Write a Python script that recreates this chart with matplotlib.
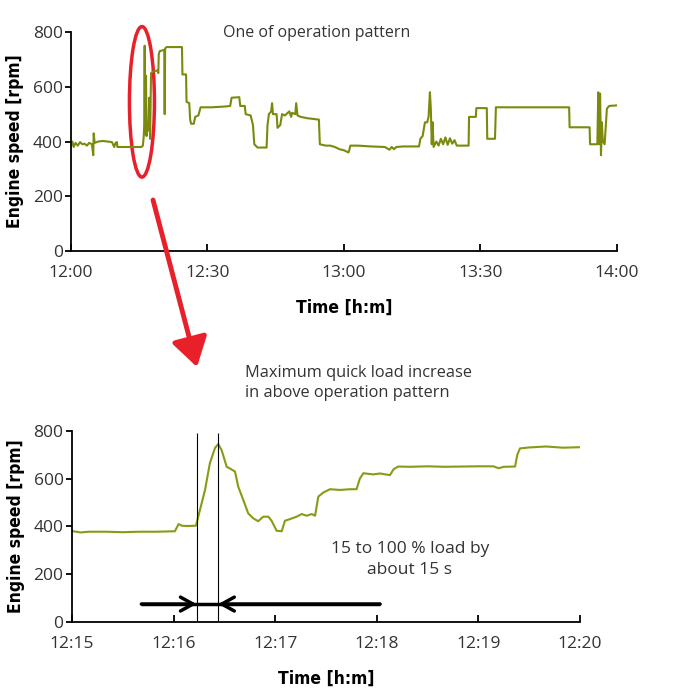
import matplotlib.pyplot as plt
from matplotlib.patches import Ellipse, FancyArrowPatch

# top panel: minutes after 12:00 vs engine speed [rpm]
top_min = [0, 0.3, 0.6, 1, 1.5, 2, 2.5, 3, 3.5, 4, 4.6, 4.9, 5.0, 5.2, 6, 7, 8, 9, 9.5, 9.8,
           10.1, 10.2, 10.3, 12, 15.5, 15.8, 16.0, 16.1, 16.2, 16.3, 16.5, 16.6, 16.8, 17.0,
           17.2, 17.4, 17.6, 18, 19.0, 19.2, 19.3, 19.5, 20.5, 20.6, 20.7, 21, 24.4, 24.5,
           25.3, 25.4, 26, 26.2, 26.4, 27, 27.3, 28, 28.5, 31, 34, 35, 35.3, 37, 37.2, 38.2,
           38.4, 39.5, 40, 40.3, 41, 43, 43.2, 43.5, 44, 44.2, 44.4, 45.2, 45.4, 46.0, 46.4,
           47, 48, 48.4, 48.6, 49.3, 49.5, 49.8, 50.5, 52, 54.5, 54.7, 56, 57, 58, 59, 60,
           61, 61.2, 61.4, 63, 66, 69, 70, 70.5, 71, 71.5, 73, 76.5, 76.8, 77.3, 77.8, 78.3,
           78.6, 78.9, 79.1, 79.3, 79.5, 79.7, 80.3, 80.8, 81.3, 81.8, 82.3, 82.8, 83.3, 83.8,
           84.3, 84.8, 87.4, 87.5, 89, 89.1, 91.4, 91.5, 93.2, 93.4, 109.5, 109.6, 114, 114.1,
           115.7, 115.9, 116.1, 116.3, 116.5, 116.7, 116.9, 117.3, 117.8, 118.3, 120]
top_rpm = [385, 400, 380, 395, 385, 398, 390, 392, 385, 395, 390, 350, 430, 395, 400, 402, 400,
           398, 380, 395, 398, 380, 380, 380, 380, 385, 420, 460, 750, 430, 640, 420, 470, 440,
           560, 410, 650, 655, 660, 650, 720, 730, 735, 500, 740, 745, 745, 645, 645, 545, 540,
           480, 465, 465, 490, 495, 525, 525, 528, 530, 560, 562, 530, 530, 500, 495, 460, 390,
           378, 378, 460, 500, 510, 540, 500, 500, 450, 460, 500, 495, 510, 490, 505, 500, 540,
           495, 490, 485, 480, 390, 385, 385, 380, 372, 368, 360, 370, 385, 385, 382, 380, 370,
           380, 372, 380, 382, 382, 410, 420, 470, 470, 490, 580, 520, 390, 470, 380, 400, 385,
           410, 390, 415, 388, 412, 392, 405, 385, 385, 490, 490, 522, 522, 410, 410, 525, 525,
           452, 452, 390, 390, 580, 390, 575, 350, 470, 400, 390, 520, 530, 532]

# bottom panel: seconds after 12:15 vs engine speed [rpm]
zoom_sec = [0, 5, 10, 20, 30, 40, 50, 60.8, 63, 65, 68, 73.2, 73.6, 75.6, 78.6, 81.5, 84.5,
            86.4, 88.4, 91.4, 93.3, 96.3, 98.2, 101.2, 104.1, 107.1, 110.0, 113.0, 116.0, 117.9,
            120.9, 123.9, 125.8, 128.8, 132.7, 135.7, 138.6, 141.6, 143.6, 145.5, 148.4, 152.4,
            158.3, 164.2, 168.1, 170, 172.1, 178, 182, 187.8, 190, 192.7, 200, 210, 220, 230,
            240, 248.9, 252, 255, 261.7, 263, 264.6, 270, 280, 290, 300]
zoom_rpm = [381, 375, 378, 378, 376, 378, 378, 380, 410, 403, 402, 403, 413, 469, 553, 666, 729,
            745, 720, 650, 643, 630, 567, 511, 455, 434, 422, 441, 441, 424, 382, 380, 424, 431,
            441, 452, 445, 452, 445, 525, 542, 556, 553, 556, 556, 600, 623, 618, 622, 615, 640,
            651, 650, 652, 650, 651, 652, 652, 644, 650, 651, 700, 727, 731, 735, 730, 732]

marks_sec = [73.6, 86.4]      # start / peak of quick load increase
arrow_span = [41, 182]
arrow_rpm = 75

xt_top = [0, 30, 60, 90, 120]
xt_top_lbl = ['12:00', '12:30', '13:00', '13:30', '14:00']
xt_zoom = [0, 60, 120, 180, 240, 300]
xt_zoom_lbl = ['12:15', '12:16', '12:17', '12:18', '12:19', '12:20']
yt = [0, 200, 400, 600, 800]

line_col = '#7b8a0c'
text_col = '#333333'

plt.rcParams['font.family'] = ['Open Sans', 'DejaVu Sans']

fig = plt.figure(figsize=(6.85, 6.9), dpi=100)
ax1 = fig.add_axes([0.1036, 0.6362, 0.797, 0.3174])
ax2 = fig.add_axes([0.105, 0.0986, 0.7416, 0.2768])


def style_axes(ax, xticks, xlabels, xmax):
    for s in ['top', 'right']:
        ax.spines[s].set_visible(False)
    for s in ['left', 'bottom']:
        ax.spines[s].set_linewidth(1.3)
    ax.set_xlim(0, xmax)
    ax.set_ylim(0, 800)
    ax.set_xticks(xticks)
    ax.set_xticklabels(xlabels)
    ax.set_yticks(yt)
    ax.tick_params(axis='x', direction='in', length=5, width=1.3, pad=10,
                   labelsize=12.5, labelcolor=text_col)
    ax.tick_params(axis='y', direction='out', length=4, width=1.3, pad=2,
                   labelsize=12.5, labelcolor=text_col)
    ax.set_ylabel('Engine speed [rpm]', fontsize=12.5, fontweight='bold',
                  family='DejaVu Sans', fontstretch='condensed', labelpad=6)
    ax.set_xlabel('Time [h:m]', fontsize=12.5, fontweight='bold',
                  family='DejaVu Sans', fontstretch='condensed', labelpad=13)


ax1.plot(top_min, top_rpm, color=line_col, lw=1.5)
style_axes(ax1, xt_top, xt_top_lbl, 120)
ax1.add_patch(Ellipse((15.6, 545), width=5.5, height=550, fill=False,
                      edgecolor='#e8202a', lw=2.5, clip_on=False))

ax2.plot(zoom_sec, zoom_rpm, color='#8a9a14', lw=1.5)
style_axes(ax2, xt_zoom, xt_zoom_lbl, 300)
ax2.vlines(marks_sec, 0, 793, colors='black', lw=0.8)
ax2.plot(arrow_span, [arrow_rpm, arrow_rpm], color='black', lw=2.5, solid_capstyle='butt')
head = '->,head_length=0.9,head_width=0.5'
ax2.annotate('', xy=(marks_sec[0], arrow_rpm), xytext=(arrow_span[0], arrow_rpm),
             arrowprops=dict(arrowstyle=head, lw=2.5, color='black', shrinkA=0, shrinkB=0))
ax2.annotate('', xy=(marks_sec[1], arrow_rpm), xytext=(arrow_span[1], arrow_rpm),
             arrowprops=dict(arrowstyle=head, lw=2.5, color='black', shrinkA=0, shrinkB=0))
ax2.text(199.6, 262, '15 to 100 % load by\nabout 15 s', ha='center', va='center',
         fontsize=12.5, color=text_col, linespacing=1.35)

fig.text(0.3255, 0.952, 'One of operation pattern', ha='left', va='center',
         fontsize=11.5, color=text_col)
fig.text(0.3577, 0.445, 'Maximum quick load increase\nin above operation pattern',
         ha='left', va='center', fontsize=11.8, color=text_col, linespacing=1.32)

fig.add_artist(FancyArrowPatch((0.2234, 0.7101), (0.2876, 0.4681),
                               transform=fig.transFigure,
                               arrowstyle='-|>,head_length=8,head_width=5',
                               mutation_scale=2.2, color='#e8202a', lw=3.5,
                               shrinkA=0, shrinkB=0))

fig.savefig('out.png', dpi=100)
